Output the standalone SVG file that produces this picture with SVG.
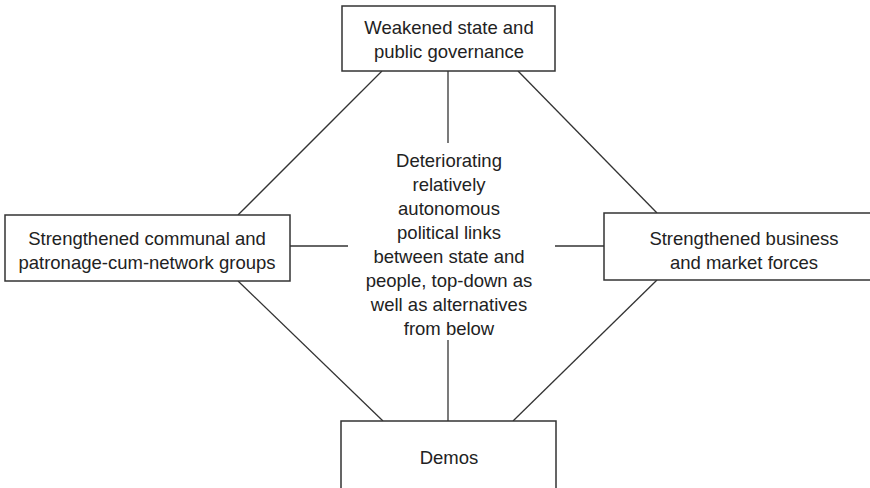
<svg xmlns="http://www.w3.org/2000/svg" width="870" height="488" viewBox="0 0 870 488">
<style>
.box{fill:#fff;stroke:#333;stroke-width:1.5}
.ln{stroke:#333;stroke-width:1.3;fill:none}
text{font-family:"Liberation Sans",Arial,sans-serif;font-size:18.5px;fill:#222;text-anchor:middle}
</style>
<rect width="870" height="488" fill="#fff"/>
<g id="connectors">
<line class="ln" x1="382" y1="71" x2="238" y2="215"/>
<line class="ln" x1="518" y1="71" x2="657" y2="213"/>
<line class="ln" x1="448" y1="71" x2="448" y2="143"/>
<line class="ln" x1="290" y1="246" x2="348" y2="246"/>
<line class="ln" x1="555" y1="246" x2="604" y2="246"/>
<line class="ln" x1="238" y1="281" x2="383" y2="421"/>
<line class="ln" x1="657" y1="280" x2="513" y2="421"/>
<line class="ln" x1="448" y1="340" x2="448" y2="421"/>
</g>
<g id="center">
<text x="449" y="167">Deteriorating</text>
<text x="449" y="191">relatively</text>
<text x="449" y="215">autonomous</text>
<text x="449" y="239">political links</text>
<text x="449" y="263">between state and</text>
<text x="449" y="287">people, top-down as</text>
<text x="449" y="311">well as alternatives</text>
<text x="449" y="335">from below</text>
</g>
<g id="top">
<rect class="box" x="342" y="6" width="213" height="65"/>
<text x="449" y="34">Weakened state and</text>
<text x="449" y="58">public governance</text>
</g>
<g id="left">
<rect class="box" x="5" y="215" width="285" height="66"/>
<text x="147" y="245">Strengthened communal and</text>
<text x="147" y="269">patronage-cum-network groups</text>
</g>
<g id="right">
<rect class="box" x="604" y="213" width="275" height="67"/>
<text x="744" y="245">Strengthened business</text>
<text x="744" y="269">and market forces</text>
</g>
<g id="bottom">
<rect class="box" x="341" y="421" width="215" height="80"/>
<text x="449" y="464">Demos</text>
</g>
</svg>
